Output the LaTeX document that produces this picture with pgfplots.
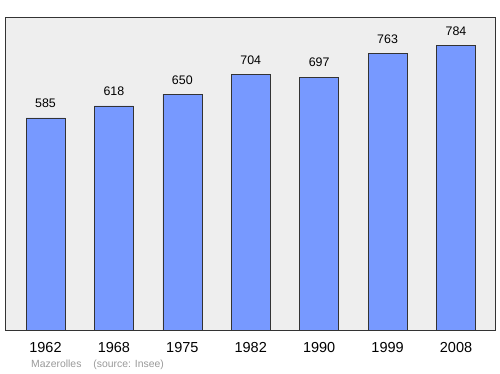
\documentclass[border=0pt]{standalone}
\usepackage{pgfplots}
\pgfplotsset{compat=1.18}
\usepackage{fontspec}
\setmainfont{Liberation Sans}
\definecolor{bgc}{HTML}{EEEEEE}
\definecolor{barc}{HTML}{7799FF}
\definecolor{footc}{HTML}{999999}
\begin{document}
\begin{tikzpicture}[x=1pt,y=1pt]
\path[use as bounding box] (0,0) rectangle (500,374);
\begin{axis}[
  at={(5pt,44pt)}, anchor=south west,
  scale only axis, width=490pt, height=313pt,
  xmin=-0.592, xmax=6.57, ymin=0, ymax=863,
  axis background/.style={fill=bgc},
  axis line style={draw=black!80, line width=0.9pt},
  ytick=\empty,
  xtick=data,
  xticklabels={1962,1968,1975,1982,1990,1999,2008},
  xtick style={draw=none},
  xticklabel style={anchor=center, yshift=-17.7pt, font=\fontsize{14.5}{16}\selectfont},
  /pgf/number format/assume math mode=true,
  nodes near coords,
  nodes near coords style={anchor=center, yshift=14.5pt, font=\fontsize{12.4}{14}\selectfont, /pgf/number format/1000 sep={}},
]
\addplot[ybar, bar width=39pt, fill=barc, draw=black!80, line width=0.6pt] coordinates {
(0,585) (1,618) (2,650) (3,704) (4,697) (5,763) (6,784)};
\end{axis}
\node[anchor=west, inner sep=0pt, text=footc, font=\fontsize{10.4}{12}\selectfont] at (31,9) {Mazerolles\hspace{12pt}(source: Insee)};
\end{tikzpicture}
\end{document}
